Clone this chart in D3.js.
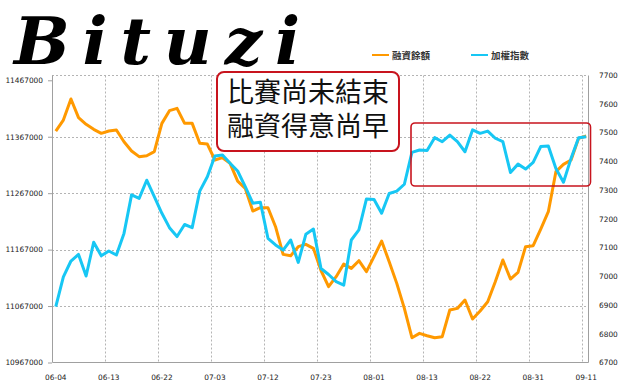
<!DOCTYPE html>
<html>
<head>
<meta charset="utf-8">
<script src="https://cdn.jsdelivr.net/npm/d3@7"></script>
<style>
  body { margin: 0; background: #fff; }
  svg { display: block; font-family: "DejaVu Sans", sans-serif; }
</style>
</head>
<body>
<svg id="chart" width="620" height="386"></svg>
<script>
// 交易日 (2012)
const dates = [
  "06-04", "06-05", "06-06", "06-07", "06-08", "06-11", "06-12", "06-13", "06-14", "06-15",
  "06-18", "06-19", "06-20", "06-21", "06-22", "06-25", "06-26", "06-27", "06-28", "06-29",
  "07-02", "07-03", "07-04", "07-05", "07-06", "07-09", "07-10", "07-11", "07-12", "07-13",
  "07-16", "07-17", "07-18", "07-19", "07-20", "07-23", "07-24", "07-25", "07-26", "07-27",
  "07-30", "07-31", "08-01", "08-03", "08-06", "08-07", "08-08", "08-09", "08-10", "08-13",
  "08-14", "08-15", "08-16", "08-17", "08-20", "08-21", "08-22", "08-23", "08-24", "08-27",
  "08-28", "08-29", "08-30", "08-31", "09-03", "09-04", "09-05", "09-06", "09-07", "09-10",
  "09-11",
];

// 融資餘額 (左軸)
const marginBalance = [
  11377000, 11396600, 11433900, 11400800, 11389000, 11380100, 11373000, 11377200, 11378900, 11358200,
  11341700, 11331700, 11333400, 11340500, 11390700, 11413200, 11417300, 11390700, 11390700, 11355300,
  11354100, 11325800, 11329900, 11319900, 11288500, 11275600, 11235400, 11241300, 11241300, 11207600,
  11158600, 11156200, 11172200, 11176300, 11169200, 11130000, 11101300, 11119000, 11141500, 11133800,
  11147400, 11127900, 11154500, 11182200, 11145600, 11107200, 11062900, 11010900, 11018600, 11014500,
  11010900, 11012700, 11060000, 11062900, 11077700, 11044000, 11058200, 11074700, 11110200, 11148600,
  11114900, 11126700, 11172200, 11174000, 11203500, 11234200, 11305100, 11318100, 11325800, 11364200,
  11368300,
];

// 加權指數 (右軸)
const taiex = [
  6894, 6998, 7053, 7076, 7001, 7118, 7071, 7088, 7074, 7149,
  7283, 7271, 7334, 7277, 7219, 7169, 7138, 7180, 7169, 7296,
  7346, 7418, 7422, 7393, 7366, 7312, 7254, 7257, 7132, 7109,
  7091, 7126, 7048, 7146, 7164, 7027, 7006, 6981, 6969, 7126,
  7161, 7269, 7267, 7219, 7288, 7296, 7320, 7431, 7439, 7437,
  7482, 7468, 7491, 7468, 7433, 7509, 7497, 7505, 7480, 7468,
  7361, 7390, 7373, 7396, 7451, 7453, 7375, 7327, 7410, 7482,
  7485,
];

const leftTicks = [11467000, 11367000, 11267000, 11167000, 11067000, 10967000];
const rightTicks = [7700, 7600, 7500, 7400, 7300, 7200, 7100, 7000, 6900, 6800, 6700];
const xTickLabels = dates.filter((d, i) => i % 7 === 0);

const seriesNames = ["融資餘額", "加權指數"];
const seriesColors = ["#ff9900", "#17c7f4"];

const plot = { left: 52, right: 588, top: 75.5, bottom: 362.5 };

const svg = d3.select("#chart");

// scales
const xScale = d3.scaleBand().domain(dates).range([52, 590]);
const xMid = (d) => xScale(d) + xScale.bandwidth() / 2;

const yLeft = d3.scaleLinear().domain([10967000, 11467000]).range([plot.bottom, 80.3]);
const yRight = d3.scaleLinear().domain([6700, 7700]).range([plot.bottom, 75]);

// gridlines
const grid = svg.append("g").attr("stroke", "#b4b4b4").attr("stroke-dasharray", "2,2");

grid
  .selectAll(".hgrid")
  .data(leftTicks.slice(1, -1))
  .enter()
  .append("line")
  .attr("x1", plot.left)
  .attr("x2", plot.right)
  .attr("y1", (d) => Math.round(yLeft(d)) + 0.5)
  .attr("y2", (d) => Math.round(yLeft(d)) + 0.5);

grid
  .append("line")
  .attr("x1", plot.left)
  .attr("x2", plot.right)
  .attr("y1", plot.top)
  .attr("y2", plot.top);

grid
  .selectAll(".vgrid")
  .data(xTickLabels.slice(1))
  .enter()
  .append("line")
  .attr("x1", (d) => Math.round(xScale(d)) + 0.5)
  .attr("x2", (d) => Math.round(xScale(d)) + 0.5)
  .attr("y1", plot.top)
  .attr("y2", plot.bottom);

// frame
svg
  .append("path")
  .attr("d", `M${plot.left + 0.5},${plot.top}V${plot.bottom}H${plot.right + 0.5}V${plot.top}`)
  .attr("fill", "none")
  .attr("stroke", "#a0a0a0");

// axes
const leftAxis = svg
  .append("g")
  .attr("transform", `translate(${plot.left},0)`)
  .call(d3.axisLeft(yLeft).tickValues(leftTicks).tickFormat(d3.format("d")).tickSize(4).tickPadding(5));

const rightAxis = svg
  .append("g")
  .attr("transform", `translate(${plot.right},0)`)
  .call(d3.axisRight(yRight).tickValues(rightTicks).tickFormat(d3.format("d")).tickSize(0).tickPadding(11));

const bottomAxis = svg
  .append("g")
  .attr("transform", `translate(0,${plot.bottom})`)
  .call(d3.axisBottom(xScale).tickValues(xTickLabels).tickSize(0).tickPadding(12));

[leftAxis, rightAxis, bottomAxis].forEach((a) => {
  a.select(".domain").remove();
  a.selectAll("line").attr("stroke", "#a0a0a0");
  a.selectAll("text")
    .attr("fill", "#222")
    .style("font-size", "7.4px")
    .style("font-family", "DejaVu Sans, sans-serif");
});

// lines
const lineLeft = d3
  .line()
  .x((d, i) => xMid(dates[i]))
  .y((d) => yLeft(d));

const lineRight = d3
  .line()
  .x((d, i) => xMid(dates[i]))
  .y((d) => yRight(d));

svg
  .append("path")
  .datum(marginBalance)
  .attr("d", lineLeft)
  .attr("fill", "none")
  .attr("stroke", seriesColors[0])
  .attr("stroke-width", 3)
  .attr("stroke-linejoin", "round");

svg
  .append("path")
  .datum(taiex)
  .attr("d", lineRight)
  .attr("fill", "none")
  .attr("stroke", seriesColors[1])
  .attr("stroke-width", 3)
  .attr("stroke-linejoin", "round");

// highlight box
svg
  .append("rect")
  .attr("x", 411)
  .attr("y", 123)
  .attr("width", 179.5)
  .attr("height", 63)
  .attr("rx", 4)
  .attr("fill", "none")
  .attr("stroke", "#c8141e")
  .attr("stroke-width", 1.6);

// note box
svg
  .append("rect")
  .attr("x", 217)
  .attr("y", 72)
  .attr("width", 182)
  .attr("height", 79)
  .attr("rx", 7)
  .attr("fill", "#fff")
  .attr("stroke", "#c8141e")
  .attr("stroke-width", 2);

const noteLines = ["比賽尚未結束", "融資得意尚早"];
svg
  .selectAll(".note")
  .data(noteLines)
  .enter()
  .append("text")
  .attr("x", 308)
  .attr("y", (d, i) => 102 + i * 34)
  .attr("text-anchor", "middle")
  .style("font-family", "'Noto Sans CJK TC', sans-serif")
  .style("font-size", "27px")
  .attr("fill", "#111")
  .text((d) => d);

// legend
const legend = svg
  .selectAll(".legend")
  .data(seriesNames)
  .enter()
  .append("g")
  .attr("transform", (d, i) => `translate(${372 + i * 99},55)`);

legend
  .append("line")
  .attr("x1", 0)
  .attr("x2", 17)
  .attr("stroke", (d, i) => seriesColors[i])
  .attr("stroke-width", 2);

legend
  .append("text")
  .attr("x", 20)
  .attr("y", 3.5)
  .style("font-family", "'Noto Sans CJK TC', sans-serif")
  .style("font-size", "9.5px")
  .style("font-weight", "bold")
  .attr("fill", "#333")
  .text((d) => d);

// logo
svg
  .append("text")
  .attr("x", 14)
  .attr("y", 64)
  .attr("textLength", 286)
  .attr("lengthAdjust", "spacing")
  .style("font-family", "'DejaVu Serif', serif")
  .style("font-size", "66px")
  .style("font-weight", "bold")
  .style("font-style", "italic")
  .attr("fill", "#000")
  .text("Bituzi");
</script>
</body>
</html>
